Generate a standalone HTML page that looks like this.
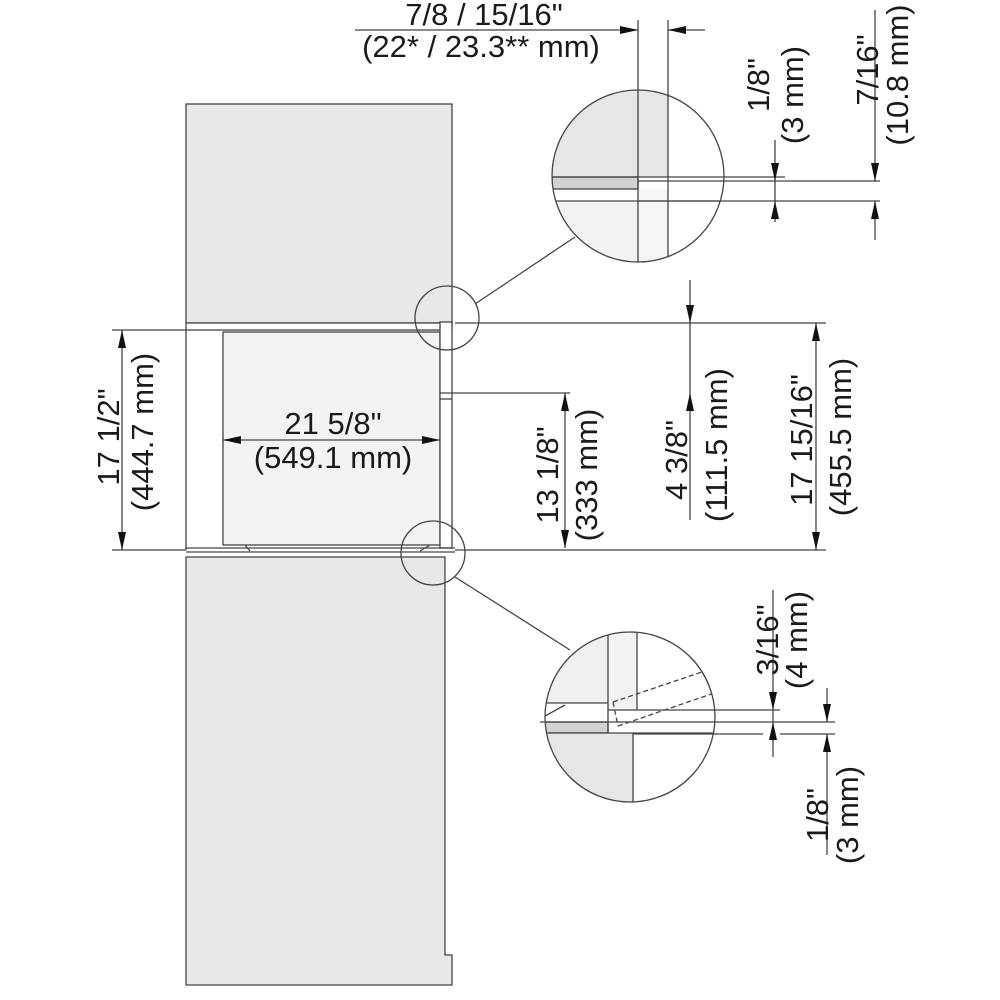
<!DOCTYPE html>
<html><head><style>body{margin:0;background:#fff}svg{display:block}text{font-family:"Liberation Sans",sans-serif;font-size:31px;fill:#1a1a1a}</style></head><body>
<svg width="1000" height="1000" viewBox="0 0 1000 1000" xmlns="http://www.w3.org/2000/svg">
<defs>
<marker id="a" viewBox="0 0 18 10" refX="18" refY="5" markerWidth="18" markerHeight="10" orient="auto-start-reverse" markerUnits="userSpaceOnUse"><path d="M0,1L18,5L0,9z" fill="#111"/></marker>
<clipPath id="c1"><circle cx="638" cy="176" r="86"/></clipPath>
<clipPath id="c2"><circle cx="630" cy="717" r="85"/></clipPath>
</defs>
<g stroke="#444" stroke-width="1.3" fill="none">
<rect x="186" y="104" width="266" height="219" fill="#e8e8e8"/>
<rect x="186" y="323" width="266" height="7" fill="#fff"/>
<line x1="186" y1="330" x2="186" y2="550"/>
<rect x="223" y="332" width="217" height="213" fill="#f3f3f3"/>
<rect x="440" y="322" width="12" height="226" fill="#fff"/>
<line x1="440" y1="393" x2="570" y2="393"/><line x1="440" y1="399" x2="452" y2="399"/>
<line x1="186" y1="548" x2="455" y2="548"/>
<path d="M245,545l5,6M420,551l10,-6"/>
<path d="M186,557H445V955h7V985H186Z" fill="#e8e8e8"/>
<line x1="186" y1="552" x2="455" y2="552"/>
<circle cx="447" cy="318" r="32"/>
<circle cx="433" cy="553" r="32"/>
<line x1="475" y1="304" x2="575" y2="237"/>
<line x1="455" y1="577" x2="570" y2="650"/>
<line x1="112" y1="330" x2="186" y2="330"/><line x1="112" y1="550" x2="186" y2="550"/>
<line x1="122" y1="330" x2="122" y2="550" marker-start="url(#a)" marker-end="url(#a)"/>
<line x1="223" y1="440" x2="440" y2="440" marker-start="url(#a)" marker-end="url(#a)"/>
<line x1="455" y1="323" x2="826" y2="323"/><line x1="455" y1="550" x2="826" y2="550"/>
<line x1="565" y1="393" x2="565" y2="548" marker-start="url(#a)" marker-end="url(#a)"/>
<line x1="690" y1="280" x2="690" y2="323" marker-end="url(#a)"/>
<line x1="690" y1="323" x2="690" y2="393"/><line x1="690" y1="520" x2="690" y2="393" marker-end="url(#a)"/>
<line x1="816" y1="323" x2="816" y2="550" marker-start="url(#a)" marker-end="url(#a)"/>
<line x1="355" y1="30" x2="638" y2="30" marker-end="url(#a)"/>
<line x1="705" y1="30" x2="668" y2="30" marker-end="url(#a)"/>
<line x1="638" y1="20" x2="638" y2="90"/><line x1="668" y1="20" x2="668" y2="97"/>
<g clip-path="url(#c1)">
<rect x="540" y="80" width="100" height="97" fill="#e6e6e6" stroke="none"/>
<rect x="638" y="80" width="30" height="97" fill="#e6e6e6" stroke="none"/>
<rect x="540" y="177" width="98" height="12" fill="#d2d2d2"/>
<rect x="540" y="201" width="98" height="80" fill="#f2f2f2" stroke="none"/>
<rect x="638" y="189" width="30" height="90" fill="#f5f5f5" stroke="none"/>
<line x1="638" y1="80" x2="638" y2="270"/><line x1="668" y1="80" x2="668" y2="270"/>
<line x1="540" y1="201" x2="730" y2="201"/>
</g>
<circle cx="638" cy="176" r="86"/>
<line x1="553" y1="177" x2="785" y2="177"/>
<line x1="638" y1="181" x2="880" y2="181"/>
<line x1="638" y1="201" x2="880" y2="201"/>
<line x1="775" y1="140" x2="775" y2="181" marker-end="url(#a)"/>
<line x1="775" y1="222" x2="775" y2="201" marker-end="url(#a)"/>
<line x1="775" y1="181" x2="775" y2="201"/>
<line x1="875" y1="10" x2="875" y2="181" marker-end="url(#a)"/>
<line x1="875" y1="240" x2="875" y2="201" marker-end="url(#a)"/>
<g clip-path="url(#c2)">
<rect x="540" y="630" width="68" height="73" fill="#f0f0f0" stroke="none"/>
<rect x="608" y="630" width="29" height="80" fill="#f2f2f2" stroke="none"/>
<rect x="540" y="722" width="68" height="11" fill="#d2d2d2"/>
<rect x="540" y="733" width="93" height="80" fill="#e6e6e6" stroke="none"/>
<line x1="540" y1="703" x2="608" y2="703"/><line x1="545" y1="716" x2="565" y2="705"/>
<line x1="608" y1="630" x2="608" y2="733"/><line x1="637" y1="630" x2="637" y2="710"/>
<line x1="633" y1="733" x2="633" y2="810"/>
<line x1="540" y1="733" x2="720" y2="733"/>
<path d="M613,702l148,-50M618,726l143,-49M613,702l5,24" stroke-dasharray="5,3"/>
</g>
<circle cx="630" cy="717" r="85"/>
<line x1="608" y1="710" x2="780" y2="710"/>
<line x1="540" y1="722" x2="835" y2="722"/>
<line x1="633" y1="734" x2="763" y2="734"/><line x1="780" y1="734" x2="835" y2="734"/>
<line x1="773" y1="590" x2="773" y2="710" marker-end="url(#a)"/>
<line x1="773" y1="757" x2="773" y2="722" marker-end="url(#a)"/>
<line x1="773" y1="710" x2="773" y2="722"/>
<line x1="827" y1="688" x2="827" y2="722" marker-end="url(#a)"/>
<line x1="827" y1="855" x2="827" y2="734" marker-end="url(#a)"/>
</g>
<text x="484" y="25" text-anchor="middle">7/8 / 15/16"</text>
<text x="481" y="57" text-anchor="middle">(22* / 23.3** mm)</text>
<text x="333" y="434" text-anchor="middle">21 5/8"</text>
<text x="333" y="468" text-anchor="middle">(549.1 mm)</text>
<g transform="translate(119,437) rotate(-90)"><text text-anchor="middle">17 1/2"</text></g>
<g transform="translate(153,432) rotate(-90)"><text text-anchor="middle">(444.7 mm)</text></g>
<g transform="translate(558,475) rotate(-90)"><text text-anchor="middle">13 1/8"</text></g>
<g transform="translate(597,475) rotate(-90)"><text text-anchor="middle">(333 mm)</text></g>
<g transform="translate(687,460) rotate(-90)"><text text-anchor="middle">4 3/8"</text></g>
<g transform="translate(727,445) rotate(-90)"><text text-anchor="middle">(111.5 mm)</text></g>
<g transform="translate(812,440) rotate(-90)"><text text-anchor="middle">17 15/16"</text></g>
<g transform="translate(851,437) rotate(-90)"><text text-anchor="middle">(455.5 mm)</text></g>
<g transform="translate(769,85) rotate(-90)"><text text-anchor="middle">1/8"</text></g>
<g transform="translate(803,95) rotate(-90)"><text text-anchor="middle">(3 mm)</text></g>
<g transform="translate(878,70) rotate(-90)"><text text-anchor="middle">7/16"</text></g>
<g transform="translate(908,75) rotate(-90)"><text text-anchor="middle">(10.8 mm)</text></g>
<g transform="translate(778,640) rotate(-90)"><text text-anchor="middle">3/16"</text></g>
<g transform="translate(807,640) rotate(-90)"><text text-anchor="middle">(4 mm)</text></g>
<g transform="translate(828,815) rotate(-90)"><text text-anchor="middle">1/8"</text></g>
<g transform="translate(858,815) rotate(-90)"><text text-anchor="middle">(3 mm)</text></g>
</svg>
</body></html>
